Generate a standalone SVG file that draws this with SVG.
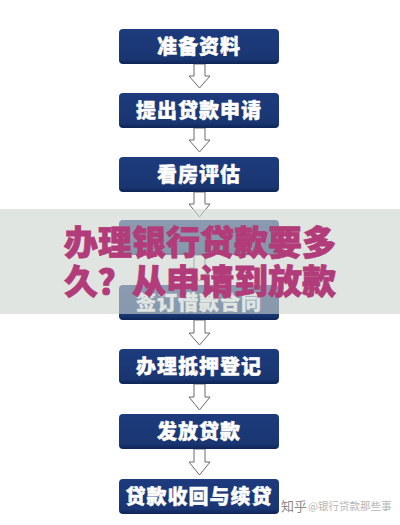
<svg xmlns="http://www.w3.org/2000/svg" width="400" height="525" viewBox="0 0 400 525">
<defs>
<linearGradient id="g" x1="0" y1="0" x2="0" y2="1">
<stop offset="0" stop-color="#1d3b7d"/>
<stop offset="0.85" stop-color="#1a3672"/>
<stop offset="1" stop-color="#0f2558"/>
</linearGradient>
</defs>
<style>
.box{fill:url(#g)}
.lbl{fill:#ffffff;font-family:"Noto Sans CJK SC","Noto Sans",sans-serif;font-weight:900;font-size:20px;letter-spacing:1px;text-anchor:middle;stroke:#ffffff;stroke-width:0.4}
.arr{fill:#ffffff;stroke:#6a6a6a;stroke-width:1}
.title{fill:#b23b7a;font-family:"Noto Sans CJK SC","Noto Sans",sans-serif;font-weight:900;font-size:34px;text-anchor:middle;stroke:#b23b7a;stroke-width:0.8}
</style>
<rect width="400" height="525" fill="#ffffff"/>
<g id="connectors">
<path class="arr" d="M194,64 V76 H189 L199.5,88 L210,76 H205 V64 Z"/>
<path class="arr" d="M194,128 V140 H189 L199.5,152 L210,140 H205 V128 Z"/>
<path class="arr" d="M194,192 V204 H189 L199.5,217 L210,204 H205 V192 Z"/>
<path class="arr" d="M194,255 V268 H189 L199.5,281 L210,268 H205 V255 Z"/>
<path class="arr" d="M194,320 V333 H189 L199.5,345 L210,333 H205 V320 Z"/>
<path class="arr" d="M194,384 V397 H189 L199.5,410 L210,397 H205 V384 Z"/>
<path class="arr" d="M194,449 V462 H189 L199.5,475 L210,462 H205 V449 Z"/>
</g>
<g id="n1"><rect class="box" x="119" y="29" width="160" height="35" rx="4"/><text class="lbl" x="199" y="54">准备资料</text></g>
<g id="n2"><rect class="box" x="119" y="93" width="160" height="35" rx="4"/><text class="lbl" x="199" y="118">提出贷款申请</text></g>
<g id="n3"><rect class="box" x="119" y="157" width="160" height="35" rx="4"/><text class="lbl" x="199" y="182">看房评估</text></g>
<g id="n4"><rect class="box" x="119" y="220" width="160" height="35" rx="4"/></g>
<g id="n5"><rect class="box" x="119" y="285" width="160" height="35" rx="4"/><text class="lbl" x="199" y="310">签订借款合同</text></g>
<g id="n6"><rect class="box" x="119" y="349" width="160" height="35" rx="4"/><text class="lbl" x="199" y="374">办理抵押登记</text></g>
<g id="n7"><rect class="box" x="119" y="414" width="160" height="35" rx="4"/><text class="lbl" x="199" y="439">发放贷款</text></g>
<g id="n8"><rect class="box" x="119" y="479" width="160" height="35" rx="4"/><text class="lbl" x="199" y="504">贷款收回与续贷</text></g>
<g id="overlay">
<rect x="0" y="209" width="400" height="105" fill="#cdd5d1" fill-opacity="0.62"/>
<text class="title" x="200" y="255">办理银行贷款要多</text>
<text class="title" x="200" y="294">久？从申请到放款</text>
</g>
<g id="watermark" font-family="'Noto Sans CJK SC','Noto Sans',sans-serif">
<text x="281" y="511" fill="#8a8a8a" font-size="13">知乎</text>
<text x="308" y="510" fill="#b5b5b5" font-size="10.5">@银行贷款那些事</text>
</g>
</svg>
